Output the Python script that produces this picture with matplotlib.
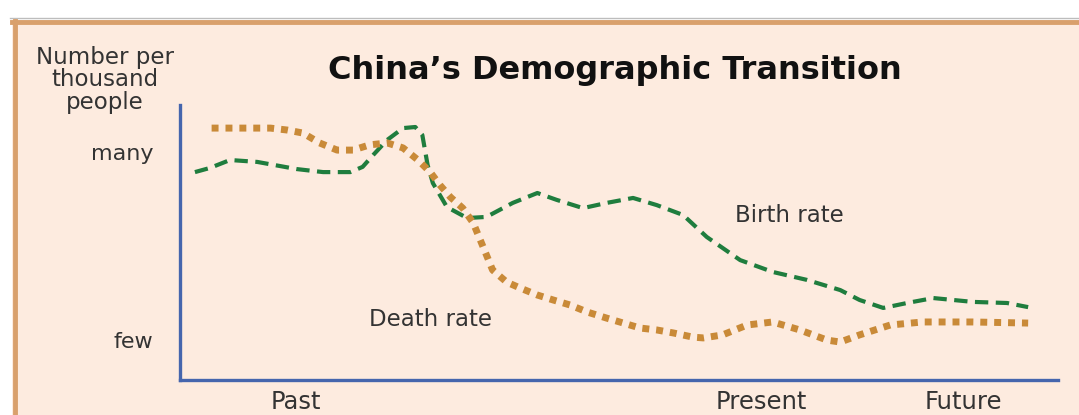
import matplotlib
matplotlib.use("Agg")
import matplotlib.pyplot as plt
from matplotlib.patches import Rectangle
from matplotlib.lines import Line2D

# time axis runs 0 (past) .. 100 (future), level 0 (few) .. 100 (many)
birth_t = [1.7, 3.4, 5.7, 8.8, 13.3, 16.3, 19.4, 20.8, 22.0, 23.6, 25.4, 26.8, 27.6,
           28.2, 28.8, 30.4, 32.7, 34.9, 37.9, 40.7, 42.9, 45.9, 48.6, 51.6, 54.3,
           57.3, 60.0, 63.8, 67.5, 71.4, 75.2, 77.4, 80.1, 82.8, 85.8, 90.3, 94.2, 96.6]
birth_rate = [75.6, 77.1, 80.0, 79.3, 76.7, 75.6, 75.6, 77.5, 81.8, 87.3, 91.6, 92.0, 89.1,
              78.2, 71.6, 62.9, 58.9, 59.3, 64.4, 68.0, 65.5, 62.5, 64.4, 66.2, 63.6,
              60.0, 52.0, 43.6, 39.3, 36.4, 32.7, 29.1, 26.2, 28.0, 29.8, 28.4, 28.0, 26.5]

death_t = [3.6, 10.3, 12.2, 14.0, 15.9, 17.9, 19.7, 21.6, 23.6, 25.4, 27.1, 28.5, 29.6,
           30.8, 32.2, 33.4, 34.2, 35.0, 35.6, 37.2, 38.7, 40.7, 42.5, 44.4, 46.4,
           48.6, 50.5, 52.4, 54.3, 56.2, 58.4, 59.6, 61.8, 64.6, 67.5, 70.6, 73.7,
           75.2, 77.4, 80.9, 84.6, 90.3, 96.6]
death_rate = [91.6, 91.6, 90.9, 89.8, 86.2, 83.6, 83.6, 85.5, 86.2, 84.4, 80.0, 75.6, 70.9,
              66.5, 62.5, 57.1, 50.9, 44.7, 40.0, 35.6, 33.5, 30.9, 29.1, 27.3, 24.7,
              22.5, 20.7, 18.9, 18.2, 17.1, 15.6, 15.3, 16.4, 20.0, 21.1, 18.2, 14.5,
              13.8, 16.4, 20.0, 21.1, 21.1, 20.7]

y_ticks = [82.9, 14.5]
y_labels = ["many", "few"]
x_ticks = [13.2, 66.2, 89.2]
x_labels = ["Past", "Present", "Future"]

peach = "#fdebdf"
border = "#d9a06c"
green = "#1f7d3e"
orange = "#c98a38"
blue = "#4565ad"
txt = "#333333"

W, H = 1079, 415
fig = plt.figure(figsize=(W / 100, H / 100), dpi=100, facecolor="white")

# panel background and frame
fig.patches.append(Rectangle((12 / W, 0), 1 - 12 / W, 1 - 20 / H, transform=fig.transFigure,
                             facecolor=peach, edgecolor="none", zorder=-5))
fig.add_artist(Line2D([10 / W, 1], [1 - 18 / H, 1 - 18 / H], transform=fig.transFigure,
                      color="#bdbdbd", lw=1, zorder=-4))
fig.add_artist(Line2D([12 / W, 1], [1 - 22.5 / H, 1 - 22.5 / H], transform=fig.transFigure,
                      color=border, lw=3.5, zorder=-4))
fig.add_artist(Line2D([14.5 / W, 14.5 / W], [0, 1 - 21 / H], transform=fig.transFigure,
                      color=border, lw=3.5, zorder=-4))

ax = fig.add_axes([180 / W, 35 / H, 878 / W, 275 / H])
ax.set_facecolor("none")
ax.set_xlim(0, 100)
ax.set_ylim(0, 100)

ax.plot(birth_t, birth_rate, color=green, lw=3, dashes=(3.2, 1.8),
        dash_capstyle="butt", clip_on=False)
ax.plot(death_t, death_rate, color=orange, lw=5, dashes=(1.0, 1.0), dash_capstyle="butt",
        clip_on=False)

for side in ["top", "right"]:
    ax.spines[side].set_visible(False)
for side in ["left", "bottom"]:
    ax.spines[side].set_color(blue)
    ax.spines[side].set_linewidth(2.4)

ax.set_yticks(y_ticks)
ax.set_yticklabels(y_labels, fontsize=16, color=txt)
ax.set_xticks(x_ticks)
ax.set_xticklabels(x_labels, fontsize=17.5, color=txt)
ax.tick_params(axis="y", length=0, pad=19)
ax.tick_params(axis="x", length=0, pad=7)

ax.text(69.4, 60, "Birth rate", fontsize=16.5, color=txt, ha="center", va="center")
ax.text(28.5, 22, "Death rate", fontsize=16.5, color=txt, ha="center", va="center")

fig.text(105 / W, 1 - 80 / H, "Number per\nthousand\npeople", fontsize=16.5, color=txt,
         ha="center", va="center", linespacing=0.95)
fig.text(615 / W, 1 - 70 / H, "China\u2019s Demographic Transition", fontsize=23,
         fontweight="bold", color="#111111", ha="center", va="center")

fig.savefig("out.png", dpi=100, facecolor=fig.get_facecolor())
